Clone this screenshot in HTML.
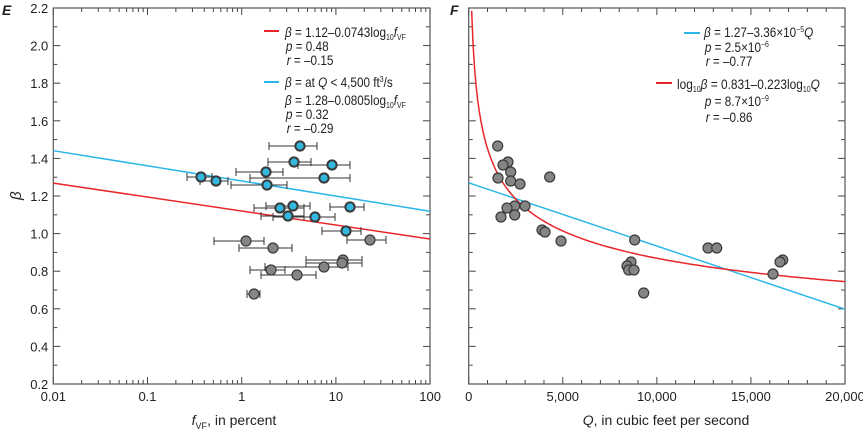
<!DOCTYPE html>
<html><head><meta charset="utf-8"><style>
body{margin:0;background:#fff}
svg{display:block;font-family:"Liberation Sans Narrow","Liberation Sans",sans-serif;}
text{fill:#222}
</style></head><body>
<svg id="s" width="863" height="436" viewBox="0 0 863 436" xmlns="http://www.w3.org/2000/svg">
<text x="2" y="15" font-size="14" font-weight="bold" font-style="italic" font-family="Liberation Sans">E</text>
<text x="450" y="15" font-size="14" font-weight="bold" font-style="italic" font-family="Liberation Sans">F</text>
<g font-size="13.5">
<line x1="264" y1="31" x2="279" y2="31" stroke="#e8262b" stroke-width="2"/>
<line x1="264" y1="82" x2="279" y2="82" stroke="#2ab6e8" stroke-width="2"/>
<g transform="translate(285,0) scale(0.87,1)">
<text x="0" y="37"><tspan font-style="italic">β</tspan> = 1.12–0.0743log<tspan font-size="8" dy="3">10</tspan><tspan dy="-3" font-style="italic">f</tspan><tspan font-size="8" dy="3">VF</tspan></text>
<text x="1" y="51"><tspan font-style="italic">p</tspan> = 0.48</text>
<text x="2" y="65"><tspan font-style="italic">r</tspan> = –0.15</text>
<text x="0" y="87"><tspan font-style="italic">β</tspan> = at <tspan font-style="italic">Q</tspan> &lt; 4,500 ft<tspan font-size="8" dy="-5">3</tspan><tspan dy="5">/s</tspan></text>
<text x="0" y="105"><tspan font-style="italic">β</tspan> = 1.28–0.0805log<tspan font-size="8" dy="3">10</tspan><tspan dy="-3" font-style="italic">f</tspan><tspan font-size="8" dy="3">VF</tspan></text>
<text x="1" y="119"><tspan font-style="italic">p</tspan> = 0.32</text>
<text x="2" y="133"><tspan font-style="italic">r</tspan> = –0.29</text>
</g>
<line x1="684" y1="33" x2="700" y2="33" stroke="#2ab6e8" stroke-width="2"/>
<line x1="656" y1="83" x2="672" y2="83" stroke="#e8262b" stroke-width="2"/>
<g transform="translate(704,0) scale(0.87,1)">
<text x="0" y="37"><tspan font-style="italic">β</tspan> = 1.27–3.36×10<tspan font-size="8" dy="-5">−5</tspan><tspan dy="5" font-style="italic">Q</tspan></text>
<text x="1" y="52"><tspan font-style="italic">p</tspan> = 2.5×10<tspan font-size="8" dy="-5">−6</tspan></text>
<text x="2" y="66"><tspan font-style="italic">r</tspan> = –0.77</text>
<text x="1" y="106"><tspan font-style="italic">p</tspan> = 8.7×10<tspan font-size="8" dy="-5">−9</tspan></text>
<text x="2" y="122"><tspan font-style="italic">r</tspan> = –0.86</text>
</g>
<g transform="translate(677,0) scale(0.88,1)">
<text x="0" y="89">log<tspan font-size="8" dy="3">10</tspan><tspan dy="-3" font-style="italic">β</tspan> = 0.831–0.223log<tspan font-size="8" dy="3">10</tspan><tspan dy="-3" font-style="italic">Q</tspan></text>
</g>
</g>
<text x="13" y="200" font-size="15" font-style="italic" transform="rotate(-90 17 196)">β</text>
<text x="234" y="425" font-size="14" text-anchor="middle"><tspan font-style="italic">f</tspan><tspan font-size="9" dy="4">VF</tspan><tspan dy="-4">, in percent</tspan></text>
<text x="666" y="425" font-size="14" text-anchor="middle"><tspan font-style="italic">Q</tspan>, in cubic feet per second</text>
<g id="g"></g>
</svg>
<script>
const g=document.getElementById('g'),NS="http://www.w3.org/2000/svg";
function el(t,a,txt){const e=document.createElementNS(NS,t);for(const k in a)e.setAttribute(k,a[k]);if(txt!==undefined)e.textContent=txt;g.appendChild(e);return e;}
const L0=53.3,L1=430,R0=468.7,R1=845,T=8,B=384;
const Y=v=>384-(v-0.2)*188, XL=f=>L0+(Math.log10(f)+2)*94.2, XR=q=>R0+q*(R1-R0)/20000;
const tk="#444";
for(let i=0;i<=20;i++){const v=0.2+i*0.1,y=Y(v),len=i%2==0?7:4;
 [[L0,1],[L1,-1],[R0,1],[R1,-1]].forEach(([x,d])=>el('line',{x1:x,y1:y,x2:x+d*len,y2:y,stroke:tk,'stroke-width':1}));
 if(i%2==0) el('text',{x:L0-5,y:y+5,'font-size':13,'text-anchor':'end'},v.toFixed(1));}
for(let d=-2;d<=2;d++){for(let m=1;m<=9;m++){if(d==2&&m>1)break;const x=XL(m*Math.pow(10,d)),len=m==1?7:4;
 el('line',{x1:x,y1:B,x2:x,y2:B-len,stroke:tk});el('line',{x1:x,y1:T,x2:x,y2:T+len,stroke:tk});}
 el('text',{x:XL(Math.pow(10,d)),y:401,'font-size':13,'text-anchor':'middle'},['0.01','0.1','1','10','100'][d+2]);}
for(let q=0;q<=20000;q+=1000){const x=XR(q),len=q%5000==0?7:4;
 el('line',{x1:x,y1:B,x2:x,y2:B-len,stroke:tk});el('line',{x1:x,y1:T,x2:x,y2:T+len,stroke:tk});
 if(q%5000==0) el('text',{x:x,y:401,'font-size':13,'text-anchor':'middle'},q==0?'0':q.toLocaleString('en-US'));}
el('rect',{x:L0,y:T,width:L1-L0,height:B-T,fill:'none',stroke:'#555','stroke-width':1.2});
el('rect',{x:R0,y:T,width:R1-R0,height:B-T,fill:'none',stroke:'#555','stroke-width':1.2});
el('line',{x1:L0,y1:Y(1.2686),x2:L1,y2:Y(0.9714),stroke:'#e8262b','stroke-width':1.5});
el('line',{x1:L0,y1:Y(1.441),x2:L1,y2:Y(1.119),stroke:'#2ab6e8','stroke-width':1.5});
el('line',{x1:R0,y1:Y(1.27),x2:R1,y2:Y(1.27-3.36e-5*20000),stroke:'#2ab6e8','stroke-width':1.5});
let p=[];for(let q=120;q<=20000;q+=q<1000?10:100){const b=6.776*Math.pow(q,-0.223),y=Y(b);if(y<T)continue;p.push(XR(q).toFixed(1)+','+y.toFixed(1));}
el('polyline',{points:p.join(' '),fill:'none',stroke:'#e8262b','stroke-width':1.5});
const LP=[[300,146,269,317,1],[294,162,268,311,1],[332,165,298,350,1],[266,172,236,283,1],[324,178,250,350,1],[201,177,187,212,1],[216,181,200,228,1],[267,185,231,287,1],[280,208,254,304,1],[293,206,266,310,1],[350,207,330,364,1],[288,216,261,304,1],[315,217,273,335,1],[346,231,322,361,1],
[370,240,347,386,0],[246,241,214,264,0],[273,248,239,292,0],[343,260,306,362,0],[342,263,306,362,0],[324,267,265,348,0],[271,270,250,285,0],[297,275,261,316,0],[254,294,247,260,0]];
LP.forEach(([x,y,a,b])=>{el('line',{x1:a,y1:y,x2:b,y2:y,stroke:'#333','stroke-width':1});el('line',{x1:a,y1:y-4,x2:a,y2:y+4,stroke:'#333'});el('line',{x1:b,y1:y-4,x2:b,y2:y+4,stroke:'#333'});});
LP.forEach(([x,y,a,b,bl])=>el('circle',{cx:x,cy:y,r:bl?4.6:5,fill:bl?'#33b8e0':'#858585',stroke:'#3a3a3a','stroke-width':bl?2:1.2}));
const RP=[[497.7,146],[508,162],[503,165],[510.7,172],[498,178],[510.7,181],[520,184],[549.7,177],[514.7,206],[507,208],[525,206],[501,217],[514.7,215],[542,230],[545,232],[561,241],[634.7,240],[708,248],[716.7,248],[782.7,260],[780,262],[631,262],[627,266],[628.7,270],[634,270],[773,274],[643.7,293]];
RP.forEach(([x,y])=>el('circle',{cx:x,cy:y,r:5,fill:'#858585',stroke:'#3a3a3a','stroke-width':1.2}));
</script>
</body></html>
